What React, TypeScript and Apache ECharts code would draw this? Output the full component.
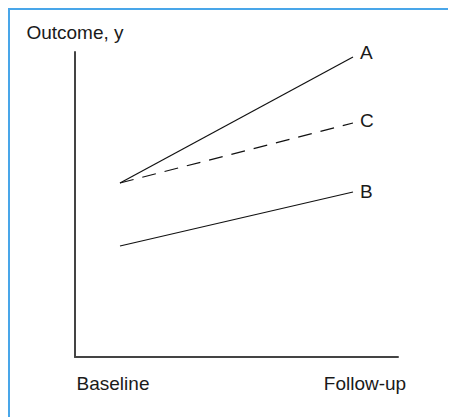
import React, { useEffect, useRef } from "react";
import * as echarts from "echarts";

const timeNames = ["Baseline", "Follow-up"];
const timeX = [45, 278];
const seriesNames = ["A", "C", "B"];
const valuesA = [174, 300];
const valuesC = [174, 234];
const valuesB = [111, 165];
const yAxisName = "Outcome, y";

const FONT = "'Liberation Sans', Arial, sans-serif";
const TEXT = "#1a1a1a";

export default function App() {
  const ref = useRef<HTMLDivElement>(null);
  useEffect(() => {
    if (!ref.current) return;
    const chart = echarts.init(ref.current, null, { renderer: "svg" });
    const labelX = [38, 290];
    const mk = (name: string, vals: number[], dashed: boolean, dy: number) => ({
      name,
      type: "line",
      data: vals.map((v, i) => [timeX[i], v]),
      symbol: "none",
      lineStyle: { color: "#111", width: 1.2, type: dashed ? [14, 9] : "solid" },
      endLabel: {
        show: true,
        formatter: name,
        distance: 7,
        offset: [0, dy],
        color: TEXT,
        fontFamily: FONT,
        fontSize: 19,
      },
      silent: true,
    });
    chart.setOption({
      animation: false,
      backgroundColor: "#fff",
      grid: { left: 65, top: 42, right: 58, bottom: 60 },
      xAxis: {
        type: "value",
        min: 0,
        max: 323,
        axisLine: { show: true, lineStyle: { color: "#444", width: 2 } },
        axisTick: { show: false },
        splitLine: { show: false },
        axisLabel: {
          customValues: labelX,
          formatter: (v: number) => {
            const i = labelX.indexOf(v);
            return i >= 0 ? timeNames[i] : "";
          },
          margin: 17,
          color: TEXT,
          fontFamily: FONT,
          fontSize: 19,
        },
      },
      yAxis: {
        type: "value",
        min: 0,
        max: 305,
        name: yAxisName,
        nameLocation: "end",
        nameGap: 10,
        nameTextStyle: { color: TEXT, fontFamily: FONT, fontSize: 19, align: "center" },
        axisLine: { show: true, lineStyle: { color: "#444", width: 2 } },
        axisTick: { show: false },
        axisLabel: { show: false },
        splitLine: { show: false },
      },
      series: [
        mk(seriesNames[0], valuesA, false, -5),
        mk(seriesNames[1], valuesC, true, -3),
        mk(seriesNames[2], valuesB, false, -1),
      ],
    });
    return () => chart.dispose();
  }, []);
  return (
    <div
      style={{
        width: 448,
        height: 409,
        boxSizing: "border-box",
        borderTop: "2px solid #49a6e9",
        borderLeft: "2px solid #49a6e9",
      }}
    >
      <div ref={ref} style={{ width: 446, height: 407 }} />
    </div>
  );
}
